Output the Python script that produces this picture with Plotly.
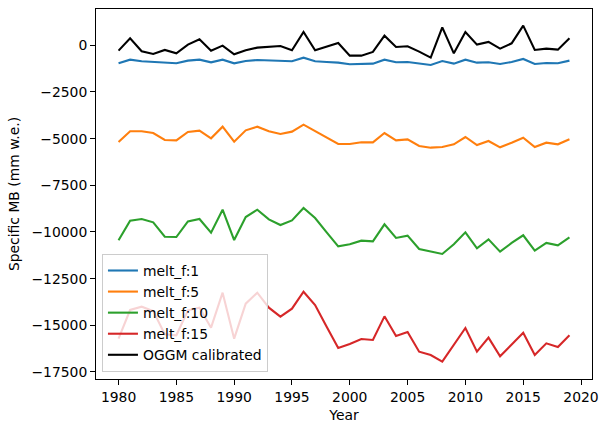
import plotly.graph_objects as go

years = list(range(1980, 2020))

melt_f_1 = [-964, -768, -857, -893, -929, -964, -821, -768, -911, -768,
            -964, -839, -786, -821, -839, -857, -661, -857, -893, -929,
            -1018, -1000, -982, -768, -911, -893, -982, -1054, -839, -982,
            -768, -929, -911, -1000, -893, -732, -1000, -946, -964, -821]

melt_f_5 = [-5180, -4607, -4607, -4698, -5073, -5091, -4645, -4575, -4982, -4360,
            -5162, -4557, -4360, -4607, -4752, -4625, -4253, -4590, -4947, -5287,
            -5287, -5198, -5198, -4698, -5091, -5037, -5394, -5484, -5448, -5305,
            -4912, -5341, -5127, -5466, -5216, -4948, -5448, -5216, -5305, -5037]

melt_f_10 = [-10446, -9396, -9305, -9482, -10253, -10271, -9432, -9305, -10039, -8807,
             -10432, -9198, -8807, -9323, -9627, -9378, -8716, -9252, -10021, -10768,
             -10661, -10464, -10500, -9589, -10321, -10196, -10911, -11036, -11179, -10661,
             -10018, -10875, -10393, -11054, -10589, -10178, -11000, -10589, -10714, -10286]

melt_f_15 = [-15717, -14180, -14003, -14234, -15482, -15536, -14198, -14056, -15128, -13253,
             -15717, -13842, -13253, -14056, -14538, -14110, -13200, -13914, -15074, -16216,
             -16002, -15734, -15788, -14520, -15573, -15360, -16413, -16591, -16948, -16073,
             -15146, -16413, -15663, -16663, -16002, -15395, -16591, -15966, -16163, -15538]

oggm_calibrated = [-286, 375, -321, -464, -250, -429, 36, 321, -286, -18,
                   -482, -268, -125, -71, -36, -268, 714, -268, -54, 125,
                   -554, -554, -357, 518, -89, -54, -339, -661, 964, -429,
                   714, 36, 179, -179, 107, 1054, -250, -179, -232, 375]

series_names = ["melt_f:1", "melt_f:5", "melt_f:10", "melt_f:15", "OGGM calibrated"]
series_values = [melt_f_1, melt_f_5, melt_f_10, melt_f_15, oggm_calibrated]
colors = ["#1f77b4", "#ff7f0e", "#2ca02c", "#d62728", "#000000"]

x_tickvals = [1980, 1985, 1990, 1995, 2000, 2005, 2010, 2015, 2020]
y_tickvals = [0, -2500, -5000, -7500, -10000, -12500, -15000, -17500]
y_ticktext = [str(v).replace("-", "\u2212") for v in y_tickvals]

fig = go.Figure()
for name, vals, c in zip(series_names, series_values, colors):
    fig.add_trace(go.Scatter(x=years, y=vals, mode="lines", name=name,
                             line=dict(color=c, width=2.1)))

font = dict(family="DejaVu Sans", size=13.9, color="black")
axis_common = dict(showline=True, mirror=True, linecolor="black", linewidth=1.1,
                   ticks="outside", ticklen=4.9, tickwidth=1.1, tickcolor="black",
                   showgrid=False, zeroline=False, tickfont=font, automargin=False)

fig.update_layout(
    width=608, height=432,
    margin=dict(l=96, r=16, t=9, b=53),
    paper_bgcolor="white", plot_bgcolor="white",
    font=font,
    showlegend=True,
    legend=dict(x=0.012, y=0.019, xanchor="left", yanchor="bottom",
                bgcolor="rgba(255,255,255,0.8)", bordercolor="#cccccc", borderwidth=1,
                font=font, itemwidth=30),
    xaxis=dict(range=[1978.05, 2020.95], tickvals=x_tickvals,
               title=dict(text="Year", font=font, standoff=6), **axis_common),
    yaxis=dict(range=[-17877, 1945], tickvals=y_tickvals, ticktext=y_ticktext,
               title=dict(text="Specific MB (mm w.e.)", font=font, standoff=8), **axis_common),
)

fig.write_html("out.html",
               config={"displayModeBar": False},
               post_script="document.body.style.margin='0';document.body.style.overflow='hidden';")
